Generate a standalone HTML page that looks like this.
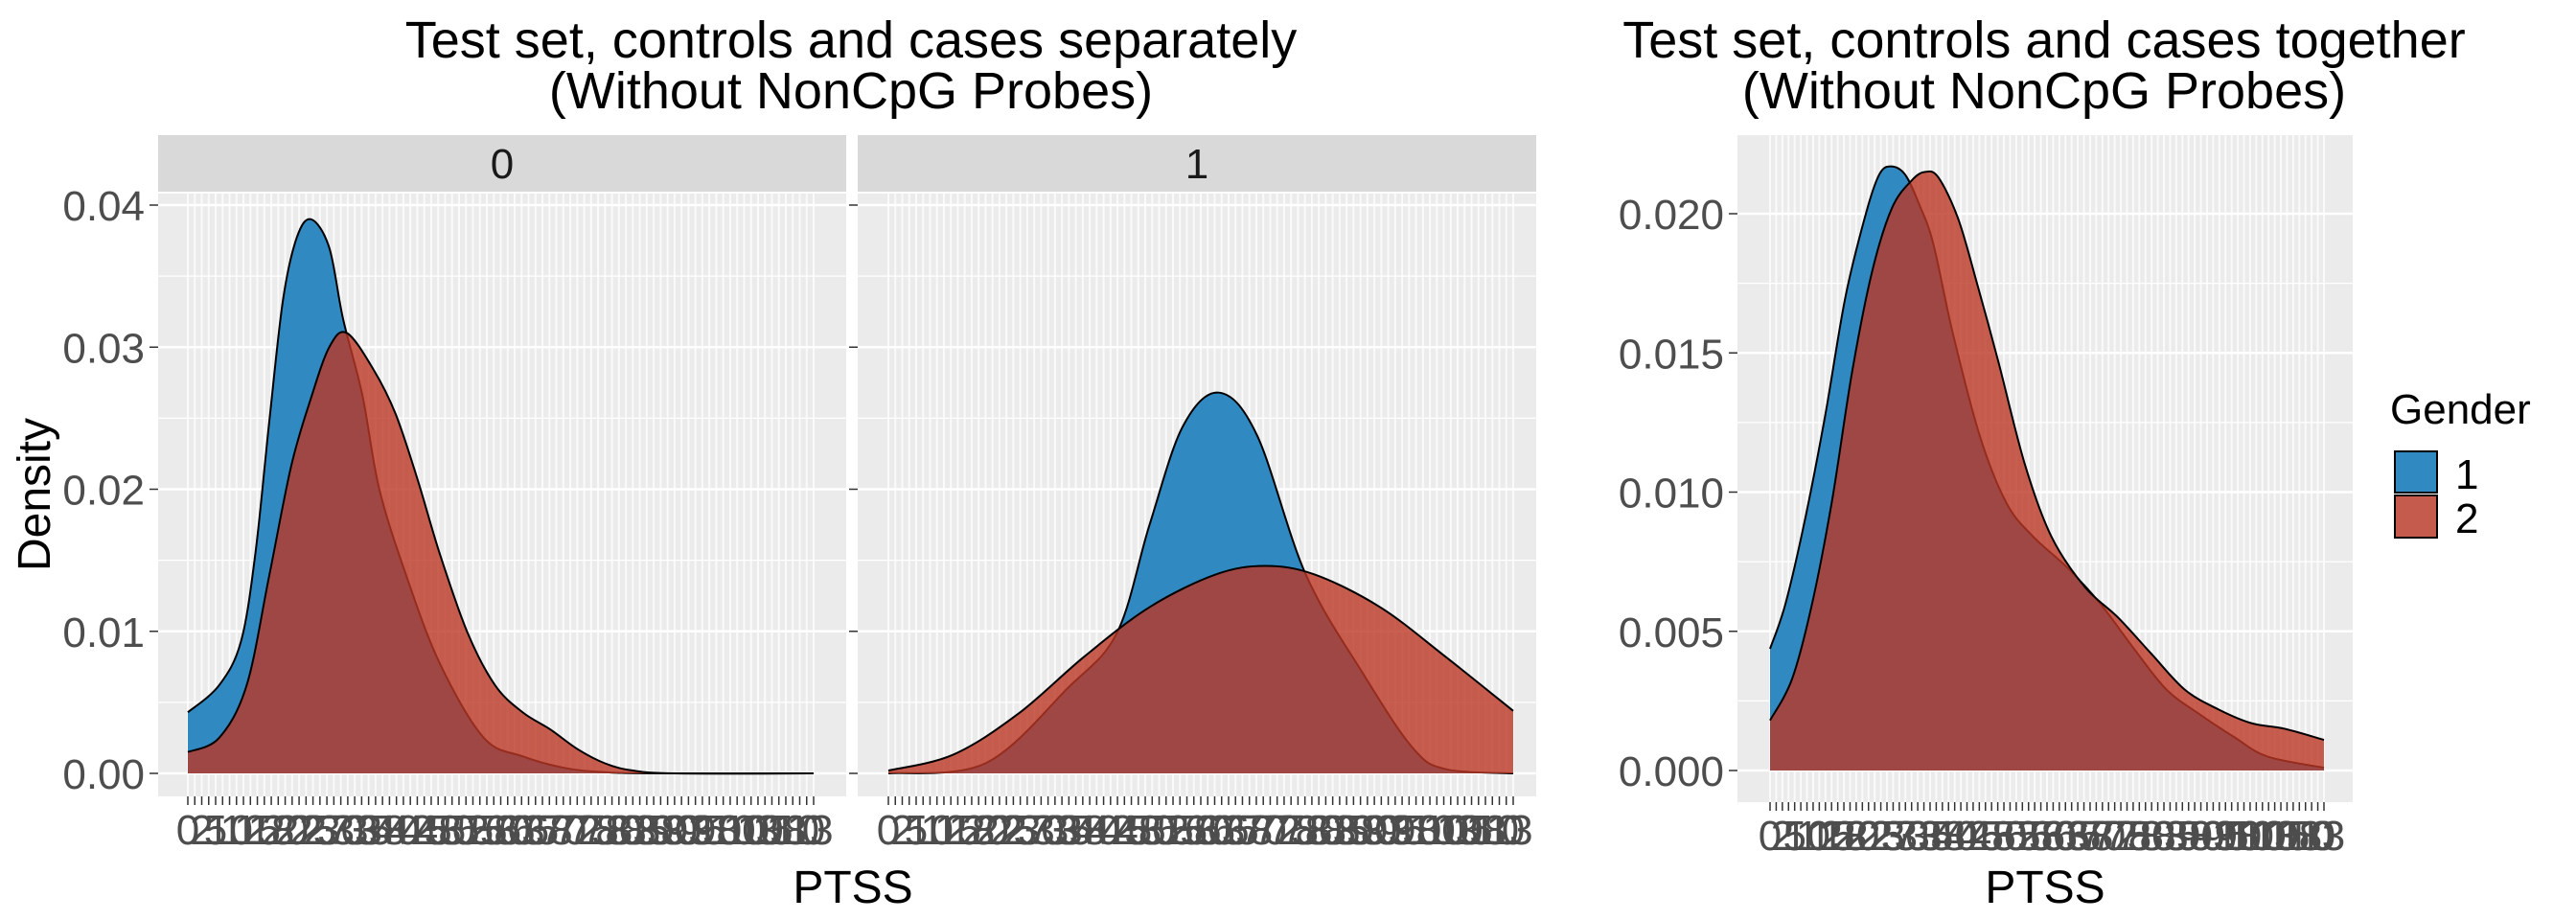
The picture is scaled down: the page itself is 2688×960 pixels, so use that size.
<!DOCTYPE html>
<html><head><meta charset="utf-8"><style>
body{margin:0;background:#fff;}
svg{display:block;font-family:"Liberation Sans",sans-serif;}
</style></head><body>
<svg id="chart" width="2688" height="960" viewBox="0 0 2688 960">
<text x="888" y="60" font-size="54" text-anchor="middle" fill="#000">Test set, controls and cases separately</text>
<text x="888" y="113" font-size="54" text-anchor="middle" fill="#000">(Without NonCpG Probes)</text>
<text x="2133" y="60" font-size="54" text-anchor="middle" fill="#000">Test set, controls and cases together</text>
<text x="2133" y="113" font-size="54" text-anchor="middle" fill="#000">(Without NonCpG Probes)</text>
<text transform="translate(52,516) rotate(-90)" font-size="48" text-anchor="middle" fill="#000">Density</text>
<text x="890" y="942" font-size="48" text-anchor="middle" fill="#000">PTSS</text>
<text x="2134" y="942" font-size="48" text-anchor="middle" fill="#000">PTSS</text>
<g>
<text x="2494" y="442" font-size="44" fill="#000">Gender</text>
<rect x="2499" y="471" width="44" height="43" fill="#3089C0" stroke="#000" stroke-width="2"/>
<rect x="2499" y="517" width="44" height="44" fill="#C55B4C" stroke="#000" stroke-width="2"/>
<text x="2562" y="510" font-size="44" fill="#000">1</text>
<text x="2562" y="556" font-size="44" fill="#000">2</text>
</g>
</svg>
<script>
// Panel 0 (controls)
const blue0X=[0,5,8.5,10.8,13,15.2,17.4,19.7,22.6,24.8,27.9,30.6,35,40.3,47.3,53.5,60,66,75,100];
const blue0Y=[.0043,.0062,.0093,.0155,.0247,.0333,.0377,.039,.037,.032,.0266,.020,.0138,.0077,.0025,.0012,.0004,.0001,0,0];
const red0X=[0,5,9.4,13,16.5,19.6,22.6,25.4,29.7,33.2,36.7,40.3,44.7,49.1,53.5,57.9,62.3,66.7,71.1,78,100];
const red0Y=[.0015,.0025,.0062,.0139,.0216,.0263,.030,.031,.0284,.0253,.0207,.0154,.0099,.0062,.0043,.0031,.0017,.0007,.0002,0,0];
// Panel 1 (cases)
const blue1X=[0,15.5,28.7,36.6,41.8,47.1,52.9,59,66.8,76,83.9,89.2,100];
const blue1Y=[0,.0007,.006,.0099,.0175,.0244,.0268,.0238,.014,.007,.0018,.0003,0];
const red1X=[0,10.3,20.8,31.3,41.8,52.4,60.3,68.2,78.7,89.2,100];
const red1Y=[.0002,.0013,.0042,.0082,.0117,.014,.0146,.014,.0117,.0082,.0044];
// Combined
const blueRX=[0,2.8,6.4,10,13.6,17.3,19.7,21.8,24.4,27,29.5,33,37.9,42.7,47.5,53.6,59.6,65.6,71.6,77.7,83.8,89.8,100];
const blueRY=[.00437,.006,.0091,.0128,.017,.0200,.0214,.0217,.0214,.0203,.0189,.0157,.012,.0096,.0084,.0073,.006,.0044,.0029,.002,.0012,.0005,.0001];
const redRX=[0,4,7.6,11.2,14.8,18.4,22,25.6,28,30.4,34,37.5,41.2,46,50.8,56.8,62.8,68.8,74.9,80.9,86.9,92.9,100];
const redRY=[.0018,.0033,.006,.0097,.0143,.0179,.0202,.0212,.0215,.0213,.0198,.0174,.0147,.011,.0084,.0066,.0055,.0042,.0029,.0022,.0017,.0015,.0011];
const yTicksLeft=[0,0.01,0.02,0.03,0.04];
const yTickLabelsLeft=["0.00","0.01","0.02","0.03","0.04"];
const yTicksRight=[0,0.005,0.01,0.015,0.02];
const yTickLabelsRight=["0.000","0.005","0.010","0.015","0.020"];
const stripLabels=["0","1"];

const NS="http://www.w3.org/2000/svg";
const svg=document.getElementById('chart');
function mk(tag,attrs,parent){const e=document.createElementNS(NS,tag);for(const k in attrs)e.setAttribute(k,attrs[k]);(parent||svg).appendChild(e);return e;}

function smoothPath(pts){
  let d="M"+pts[0][0]+","+pts[0][1];
  for(let i=0;i<pts.length-1;i++){
    const p0=pts[Math.max(0,i-1)],p1=pts[i],p2=pts[i+1],p3=pts[Math.min(pts.length-1,i+2)];
    const c1=[p1[0]+(p2[0]-p0[0])/6,p1[1]+(p2[1]-p0[1])/6];
    const c2=[p2[0]-(p3[0]-p1[0])/6,p2[1]-(p3[1]-p1[1])/6];
    d+=" C"+c1[0]+","+c1[1]+" "+c2[0]+","+c2[1]+" "+p2[0]+","+p2[1];
  }
  return d;
}

function panel(cfg){
  const g=mk('g',{});
  
  
  const x=v=>cfg.dx0+(v/100)*(cfg.dx1-cfg.dx0);
  const y=v=>cfg.y0+(v/cfg.ymax)*(cfg.ymaxPx-cfg.y0);
  const bg=mk('rect',{x:cfg.px0,y:cfg.py0,width:cfg.px1-cfg.px0,height:cfg.py1-cfg.py0,fill:'#EBEBEB'},g);
  
  
  for(let i=0;i<cfg.ticks.length-1;i++){
    const m=(cfg.ticks[i]+cfg.ticks[i+1])/2;
    mk('line',{x1:cfg.px0,x2:cfg.px1,y1:y(m),y2:y(m),stroke:'#fff','stroke-width':1.2},g);
  }
  cfg.ticks.forEach(t=>mk('line',{x1:cfg.px0,x2:cfg.px1,y1:y(t),y2:y(t),stroke:'#fff','stroke-width':2.4},g));
  const N=90;
  for(let i=0;i<=N;i++){
    const xv=x(i*100/N);
    mk('line',{x1:xv,x2:xv,y1:cfg.py0,y2:cfg.py1,stroke:'#fff','stroke-width':2,'stroke-opacity':0.75},g);
    mk('line',{x1:xv,x2:xv,y1:cfg.py1,y2:cfg.py1+9,stroke:'#333','stroke-width':1.5},g);
  }
  const labs=[0,2,5,10,12,15,18,20,22,25,27,30,33,35,38,40,42,45,48,50,52,55,58,60,63,65,68,70,72,75,78,80,83,85,88,90,93,95,98,100,103,105,108,110,113];
  for(let i=0;i<=N;i+=2){
    const t=mk('text',{x:x(i*100/N),y:cfg.py1+50,'font-size':44,'text-anchor':'middle',fill:'#4D4D4D'},g);
    t.textContent=String(labs[(i/2)%labs.length]);
    
    
  }
  cfg.ticks.forEach((t,i)=>{
    mk('line',{x1:cfg.px0-9,x2:cfg.px0,y1:y(t),y2:y(t),stroke:'#333','stroke-width':1.5},g);
    if(cfg.showY){
      const tx=mk('text',{x:cfg.px0-14,y:y(t)+16,'font-size':44,'text-anchor':'end',fill:'#4D4D4D'},g);
      tx.textContent=cfg.tickLabels[i];
      
      
    }
  });
  function area(xs,ys,fill,nm){
    const pts=xs.map((v,i)=>[x(v),y(ys[i])]);
    const top=smoothPath(pts);
    const a=mk('path',{d:top+" L"+x(xs[xs.length-1])+","+y(0)+" L"+x(xs[0])+","+y(0)+" Z",fill:fill,stroke:'none'},g);
    
    
    const l=mk('path',{d:top,fill:'none',stroke:'#000','stroke-width':2},g);
    
    
  }
  area(cfg.bx,cfg.by,'#3089C0','density-gender-1');
  area(cfg.rx,cfg.ry,'rgba(188,55,36,0.8)','density-gender-2');
  if(cfg.strip!==undefined){
    const s=mk('rect',{x:cfg.px0,y:141,width:cfg.px1-cfg.px0,height:59,fill:'#D9D9D9'},g);
    
    
    const st=mk('text',{x:(cfg.px0+cfg.px1)/2,y:186,'font-size':44,'text-anchor':'middle',fill:'#1A1A1A'},g);
    st.textContent=cfg.strip;
    
    
  }
}
panel({name:'panel-controls',px0:165,px1:883,py0:202,py1:831,dx0:196,dx1:849,y0:807,ymax:0.04,ymaxPx:214,ticks:yTicksLeft,tickLabels:yTickLabelsLeft,showY:true,bx:blue0X,by:blue0Y,rx:red0X,ry:red0Y,strip:stripLabels[0]});
panel({name:'panel-cases',px0:895,px1:1603,py0:202,py1:831,dx0:927,dx1:1579,y0:807,ymax:0.04,ymaxPx:214,ticks:yTicksLeft,tickLabels:yTickLabelsLeft,showY:false,bx:blue1X,by:blue1Y,rx:red1X,ry:red1Y,strip:stripLabels[1]});
panel({name:'panel-combined',px0:1813,px1:2455,py0:141,py1:837,dx0:1847,dx1:2425,y0:804,ymax:0.02,ymaxPx:223,ticks:yTicksRight,tickLabels:yTickLabelsRight,showY:true,bx:blueRX,by:blueRY,rx:redRX,ry:redRY});
</script>
</body></html>
